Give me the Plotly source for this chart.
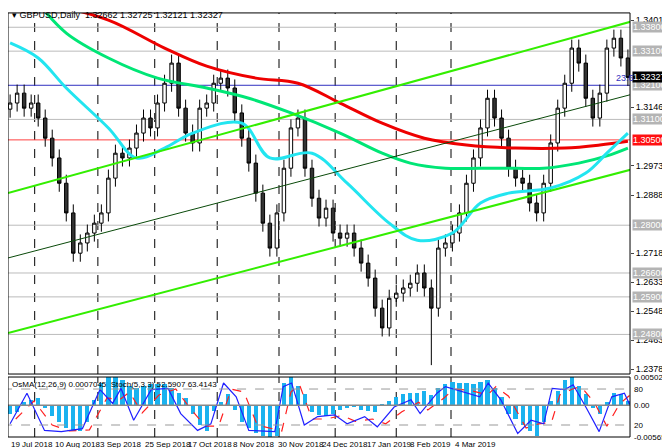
import plotly.graph_objects as go

# daily GBPUSD closes (every second trading day), Jul 2018 - Mar 2019
closes = [1.3158, 1.3187, 1.3143, 1.3158, 1.3114, 1.3055, 1.2997, 1.2923, 1.2836, 1.2718,
          1.2748, 1.2777, 1.2806, 1.2836, 1.2938, 1.3011, 1.2997, 1.3026, 1.3070, 1.3114,
          1.3085, 1.3158, 1.3216, 1.3275, 1.3143, 1.3070, 1.3041, 1.3143, 1.3158, 1.3216,
          1.3231, 1.3202, 1.3129, 1.3055, 1.2982, 1.2894, 1.2806, 1.2733, 1.2836, 1.2967,
          1.3085, 1.3114, 1.2967, 1.2879, 1.2821, 1.2850, 1.2777, 1.2762, 1.2777, 1.2733,
          1.2689, 1.2645, 1.2557, 1.2499, 1.2586, 1.2601, 1.2616, 1.2630, 1.2660, 1.2616,
          1.2557, 1.2733, 1.2748, 1.2777, 1.2836, 1.2923, 1.2997, 1.3085, 1.3172, 1.3114,
          1.3055, 1.2967, 1.2938, 1.2923, 1.2865, 1.2836, 1.2923, 1.3041, 1.3143, 1.3216,
          1.3319, 1.3275, 1.3172, 1.3114, 1.3187, 1.3319, 1.3348, 1.3290, 1.3233]
first_open = 1.3140
wick = 0.0025
spike_low_idx = 60
spike_low = 1.2390

ma200_x = [5, 14, 22, 28, 35, 41, 47, 53, 59, 65, 72, 79, 84, 88]
ma200_y = [1.3451, 1.3401, 1.3319, 1.3266, 1.3231, 1.3216, 1.3158, 1.3099, 1.3055, 1.3035,
           1.3026, 1.3026, 1.3035, 1.3046]
ma144_x = [4, 8, 14, 21, 28, 34, 40, 47, 53, 57, 62, 67, 72, 76, 81, 85, 88]
ma144_y = [1.3451, 1.3363, 1.3290, 1.3231, 1.3202, 1.3172, 1.3129, 1.3070, 1.3011, 1.2982,
           1.2967, 1.2967, 1.2967, 1.2967, 1.2982, 1.3003, 1.3026]
ma50_x = [0, 4, 8, 14, 18, 22, 26, 33, 37, 43, 48, 54, 58, 63, 67, 71, 77, 82, 85, 88]
ma50_y = [1.3334, 1.3290, 1.3202, 1.3085, 1.2997, 1.3026, 1.3070, 1.3099, 1.2997, 1.3011,
          1.2923, 1.2806, 1.2756, 1.2777, 1.2865, 1.2894, 1.2909, 1.2953, 1.3011, 1.3070]

chan_x = [-0.3, 89.2]
chan_up = [1.2894, 1.3401]
chan_mid = [1.2704, 1.3187]
chan_low = [1.2484, 1.2967]

levels = [1.3380, 1.3310, 1.3110, 1.2800, 1.2660, 1.2590, 1.2480]
level_red = 1.3050
level_blue = 1.3210
price_ticks = [1.34010, 1.31460, 1.29735, 1.28885, 1.27185, 1.26335, 1.25485, 1.24635, 1.23785]

osma = [-15, -12, 5, 10, 12, -5, -20, -30, -40, -45, -45, -30, 10, 40, 50, 55, 45, 35, 30, 35,
        38, 38, 38, 30, 22, 12, -15, -35, -45, -10, 5, 20, -8, -30, -40, -50, -55, -60, -55, 40,
        52, 35, 20, -12, -18, -20, -15, -8, -5, -3, -8, -10, -12, 3, 8, 15, 20, 22, 22, 25,
        18, 30, 38, 42, 40, 40, 38, 42, 45, 30, 15, -15, -25, -35, -45, -55, -30, 8, 25, 45,
        55, 35, 20, -5, -15, 5, 22, 20, 8]  # x 1e-4
stoch_x = [0, 2.4, 4.9, 7.3, 10.3, 12.8, 14.6, 15.8, 17.6, 20.1, 22.5, 24.3, 26.7, 28.6, 30.4,
           32.2, 34, 37.7, 38.9, 40.1, 41.9, 43.8, 46.2, 48, 50.5, 52.3, 54.7, 57.1, 58.4, 60.8,
           62, 64.4, 66.9, 68.1, 69.9, 72.3, 74.2, 76, 77.2, 79, 80.2, 82.1, 83.9, 85.7, 87.5, 88.3]
stoch_k = [22, 73, 11, 9, 14, 79, 56, 81, 28, 79, 81, 39, 11, 22, 90, 67, 11, 9, 84, 90,
           20, 34, 37, 22, 34, 17, 50, 62, 39, 73, 84, 76, 67, 90, 62, 6, 28, 22, 81, 79,
           87, 48, 9, 67, 73, 53]
stoch_d_x = [0.8, 3.4, 6, 8.5, 11.3, 13.8, 15.6, 17, 18.8, 21.2, 23.6, 25.5, 27.8, 29.7, 31.5,
             33.3, 35.2, 38.7, 40, 41.2, 43, 45, 47.3, 49.2, 51.6, 53.5, 55.8, 58.2, 59.5, 61.8,
             63.2, 65.5, 68, 69.2, 71, 73.5, 75.3, 77.1, 78.3, 80.1, 81.3, 83.2, 85, 86.8, 88.3]
stoch_d = [30, 60, 20, 10, 12, 65, 62, 75, 40, 70, 80, 50, 18, 18, 80, 75, 20, 10, 75, 88,
           30, 30, 36, 26, 30, 22, 42, 58, 45, 65, 80, 78, 70, 84, 68, 15, 22, 24, 70, 80,
           84, 58, 18, 55, 70]

date_x = [-0.2, 6.1, 12.5, 18.9, 25, 31.5, 37.9, 44.1, 50.6, 56.7, 63.1]
date_labels = ["19 Jul 2018", "10 Aug 2018", "3 Sep 2018", "25 Sep 2018", "17 Oct 2018",
               "8 Nov 2018", "30 Nov 2018", "24 Dec 2018", "17 Jan 2019", "8 Feb 2019", "4 Mar 2019"]
grid_x = [3.5, 12.5, 20.6, 29.5, 38.3, 46.3, 55, 62.8]

idx = list(range(len(closes)))
opens = [first_open] + closes[:-1]
highs = [max(o, c) + wick for o, c in zip(opens, closes)]
lows = [min(o, c) - wick for o, c in zip(opens, closes)]
lows[spike_low_idx] = spike_low

fig = go.Figure()
fig.add_trace(go.Candlestick(x=idx, open=opens, high=highs, low=lows, close=closes,
                             increasing=dict(line=dict(color="black", width=1), fillcolor="white"),
                             decreasing=dict(line=dict(color="black", width=1), fillcolor="#333333"),
                             whiskerwidth=0, showlegend=False))
fig.add_trace(go.Scatter(x=ma144_x, y=ma144_y, mode="lines", line=dict(color="#00e676", width=3, shape="spline")))
fig.add_trace(go.Scatter(x=ma200_x, y=ma200_y, mode="lines", line=dict(color="#ee0000", width=3, shape="spline")))
fig.add_trace(go.Scatter(x=ma50_x, y=ma50_y, mode="lines", line=dict(color="#22e5f0", width=3, shape="spline")))
fig.add_trace(go.Scatter(x=chan_x, y=chan_up, mode="lines", line=dict(color="#33ee00", width=2)))
fig.add_trace(go.Scatter(x=chan_x, y=chan_low, mode="lines", line=dict(color="#33ee00", width=2)))
fig.add_trace(go.Scatter(x=chan_x, y=chan_mid, mode="lines", line=dict(color="#0a4a0a", width=1)))

fig.add_trace(go.Bar(x=idx, y=[v * 1e-4 for v in osma], marker=dict(color="#1ab2ef", line_width=0),
                     width=0.6, xaxis="x2", yaxis="y2"))
fig.add_trace(go.Scatter(x=stoch_d_x, y=stoch_d, mode="lines", xaxis="x2", yaxis="y3",
                         line=dict(color="#ff2020", width=1.2, dash="dash")))
fig.add_trace(go.Scatter(x=stoch_x, y=stoch_k, mode="lines", xaxis="x2", yaxis="y3",
                         line=dict(color="#2020ff", width=1.2)))

shapes = []
for lv in levels:
    shapes.append(dict(type="line", xref="x", yref="y", x0=-1, x1=90, y0=lv, y1=lv,
                       line=dict(color="#bbbbbb", width=1), layer="below"))
shapes.append(dict(type="line", xref="x", yref="y", x0=-1, x1=90, y0=level_red, y1=level_red,
                   line=dict(color="#ff4040", width=1), layer="below"))
shapes.append(dict(type="line", xref="x", yref="y", x0=-1, x1=90, y0=level_blue, y1=level_blue,
                   line=dict(color="#3030c0", width=1), layer="below"))
for gx in grid_x:
    for ya in ("y", "y3"):
        shapes.append(dict(type="line", xref="x", yref=ya + " domain", x0=gx, x1=gx, y0=0, y1=1,
                           line=dict(color="black", width=1, dash="dash"), layer="below"))
for lv in (20, 80):
    shapes.append(dict(type="line", xref="x2", yref="y3", x0=-1, x1=90, y0=lv, y1=lv,
                       line=dict(color="#999999", width=1, dash="dash")))
shapes.append(dict(type="line", xref="x2", yref="y2", x0=-1, x1=90, y0=0, y1=0,
                   line=dict(color="#888888", width=1.5)))
for d in ([0, 0.9284, 0.183, 0.989], [0, 0.9284, 0.0424, 0.1763]):
    shapes.append(dict(type="rect", xref="paper", yref="paper", x0=d[0], x1=d[1], y0=d[2], y1=d[3],
                       line=dict(color="black", width=1)))

ann = []
font = dict(family="Liberation Sans", size=9, color="black")
lab = dict(family="Liberation Sans", size=9, color="white")
for lv in levels + [level_blue]:
    ann.append(dict(xref="paper", yref="y", x=0.931, y=lv, xanchor="left", text=f"{lv:.5f}",
                    showarrow=False, bgcolor="#b4b4b4", font=lab, borderpad=0))
ann.append(dict(xref="paper", yref="y", x=0.931, y=level_red, xanchor="left", text=f"{level_red:.5f}",
                showarrow=False, bgcolor="#ff1010", font=lab, borderpad=0))
ann.append(dict(xref="paper", yref="y", x=0.931, y=closes[-1], xanchor="left", text="1.32327",
                showarrow=False, bgcolor="black", font=lab, borderpad=0))
ann.append(dict(xref="x", yref="y", x=87.6, y=level_blue, yanchor="bottom", text="23.6", showarrow=False,
                font=dict(family="Liberation Sans", size=9, color="#3030c0")))
for dx, dl in zip(date_x, date_labels):
    ann.append(dict(xref="x", yref="paper", x=dx, y=0.025, xanchor="left", yanchor="middle", text=dl,
                    showarrow=False, font=dict(family="Liberation Sans", size=8, color="black")))
ann.append(dict(xref="paper", yref="paper", x=0.003, y=0.999, xanchor="left", yanchor="top",
                text="▾ GBPUSD,Daily  1.32662 1.32725 1.32121 1.32327", showarrow=False, font=font))
ann.append(dict(xref="paper", yref="paper", x=0.003, y=0.175, xanchor="left", yanchor="top",
                text="OsMA(12,26,9) 0.0007045  Stoch(5,3,3) 52.5907 63.4143", showarrow=False,
                font=dict(family="Liberation Sans", size=8, color="black")))
for t, yy in (("0.0050285", 0.0050285), ("0.00", 0.0), ("-0.005656", -0.005656)):
    ann.append(dict(xref="paper", yref="y2", x=0.931, y=yy, xanchor="left", text=t, showarrow=False,
                    font=dict(family="Liberation Sans", size=8, color="black")))
for t in (80, 20):
    ann.append(dict(xref="paper", yref="y3", x=0.931, y=t, xanchor="left", text=str(t), showarrow=False,
                    font=dict(family="Liberation Sans", size=8, color="black")))

xr = [-0.3, 88.3]
fig.update_layout(
    width=670, height=448, margin=dict(l=0, r=0, t=0, b=0),
    paper_bgcolor="white", plot_bgcolor="white", showlegend=False,
    shapes=shapes, annotations=ann, bargap=0,
    xaxis=dict(domain=[0, 0.9284], range=xr, showgrid=False, showticklabels=False,
               rangeslider=dict(visible=False), zeroline=False),
    yaxis=dict(domain=[0.183, 0.989], range=[1.2364, 1.3422], side="right", tickvals=price_ticks,
               ticktext=[f"{v:.5f}" for v in price_ticks], tickfont=font, showgrid=False,
               ticks="outside", ticklen=3, zeroline=False),
    xaxis2=dict(domain=[0, 0.9284], range=xr, anchor="y2", showgrid=False, showticklabels=False, zeroline=False),
    yaxis2=dict(domain=[0.0424, 0.1763], range=[-0.005656, 0.0050285], anchor="x2", showgrid=False,
                showticklabels=False, zeroline=False),
    yaxis3=dict(domain=[0.0424, 0.1763], range=[0, 100], overlaying="y2", anchor="x2", showgrid=False,
                showticklabels=False, zeroline=False),
)
fig.write_html("out.html")
